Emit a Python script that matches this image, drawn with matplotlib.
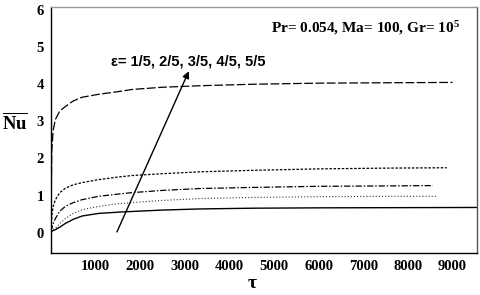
import matplotlib
matplotlib.use("Agg")
import matplotlib.pyplot as plt

plt.rcParams['mathtext.fontset'] = 'custom'
plt.rcParams['mathtext.rm'] = 'Liberation Serif:bold'
plt.rcParams['mathtext.bf'] = 'Liberation Serif:bold'
plt.rcParams['mathtext.it'] = 'Liberation Serif:bold'

# Data
tau_a = [0, 20, 50, 100, 200, 325, 500, 700, 1070, 1500, 1820, 2500, 3330, 4500, 6000, 7500, 9000]
nu_a = [0.03, 2.2, 2.75, 3.05, 3.28, 3.4, 3.55, 3.65, 3.73, 3.8, 3.86, 3.92, 3.96, 4.0, 4.03, 4.04, 4.05]

tau_b = [0, 20, 50, 100, 200, 325, 500, 700, 1070, 1500, 1820, 2500, 3330, 4500, 6000, 7500, 8870]
nu_b = [0.03, 0.45, 0.7, 0.89, 1.08, 1.2, 1.29, 1.35, 1.43, 1.5, 1.54, 1.59, 1.64, 1.68, 1.72, 1.74, 1.75]

tau_c = [0, 20, 60, 100, 200, 325, 500, 700, 1070, 1500, 1820, 2500, 3330, 4500, 6000, 7500, 8560]
nu_c = [0.03, 0.12, 0.27, 0.38, 0.58, 0.71, 0.81, 0.89, 0.98, 1.04, 1.08, 1.14, 1.19, 1.22, 1.25, 1.26, 1.27]

tau_d = [0, 50, 130, 200, 325, 500, 700, 1070, 1500, 1820, 2500, 3330, 4500, 6000, 7500, 8650]
nu_d = [0.03, 0.08, 0.15, 0.25, 0.38, 0.52, 0.62, 0.71, 0.78, 0.81, 0.87, 0.92, 0.95, 0.97, 0.98, 0.98]

tau_e = [0, 100, 200, 325, 500, 700, 1070, 1600, 2500, 3330, 4500, 6000, 9550]
nu_e = [0.03, 0.08, 0.15, 0.25, 0.36, 0.45, 0.52, 0.56, 0.61, 0.64, 0.66, 0.67, 0.68]

xticks = [1000, 2000, 3000, 4000, 5000, 6000, 7000, 8000, 9000]
yticks = [0, 1, 2, 3, 4, 5, 6]

fig = plt.figure(figsize=(4.8, 2.95), dpi=100)
ax = fig.add_axes([0.106, 0.142, 0.888, 0.834])

ax.plot(tau_a, nu_a, color='black', lw=0.9, ls=(0, (7, 2)))
ax.plot(tau_b, nu_b, color='black', lw=0.9, ls=(0, (2, 1.3)))
ax.plot(tau_c, nu_c, color='black', lw=0.9, ls=(0, (5, 1.5, 1.2, 1.5)))
ax.plot(tau_d, nu_d, color='#333333', lw=0.8, ls=(0, (1, 1.8)))
ax.plot(tau_e, nu_e, color='black', lw=1.0, ls='-')

ax.set_xlim(0, 9550)
ax.set_ylim(-0.55, 6.08)
ax.set_xticks(xticks)
ax.set_yticks(yticks)
ax.set_xticklabels([str(t) for t in xticks])
ax.set_yticklabels([str(t) for t in yticks])
ax.tick_params(axis='x', length=0, pad=5)
ax.tick_params(axis='y', length=0, pad=5)
for lab in ax.get_xticklabels() + ax.get_yticklabels():
    lab.set_fontfamily('Liberation Serif')
    lab.set_fontweight('bold')
    lab.set_fontsize(10.5)

ax.spines['left'].set_color('black')
ax.spines['bottom'].set_color('black')
ax.spines['top'].set_color('#999999')
ax.spines['right'].set_color('#555555')
for s in ax.spines.values():
    s.set_linewidth(1.0)

fig.text(252 / 480, 1 - 283 / 295, r'$\mathbf{\tau}$', fontsize=14, ha='center', va='center')
fig.text(15 / 480, 1 - 123 / 295, r'$\overline{\mathbf{Nu}}$', fontsize=13.5, ha='center', va='center')

ax.annotate('', xy=(3090, 4.35), xytext=(1480, 0.02),
            arrowprops=dict(arrowstyle='-|>', color='black', lw=1.0,
                            mutation_scale=10, shrinkA=0, shrinkB=0))
ax.text(1340, 4.62, 'ε= 1/5, 2/5, 3/5, 4/5, 5/5', fontfamily='Liberation Sans',
        fontweight='bold', fontsize=10.5, ha='left', va='center')
ax.text(4930, 5.51, r'Pr= 0.054, Ma= 100, Gr= 10$^{\mathbf{5}}$', fontfamily='Liberation Serif',
        fontweight='bold', fontsize=11, ha='left', va='center')

fig.savefig('out.png', dpi=100)
